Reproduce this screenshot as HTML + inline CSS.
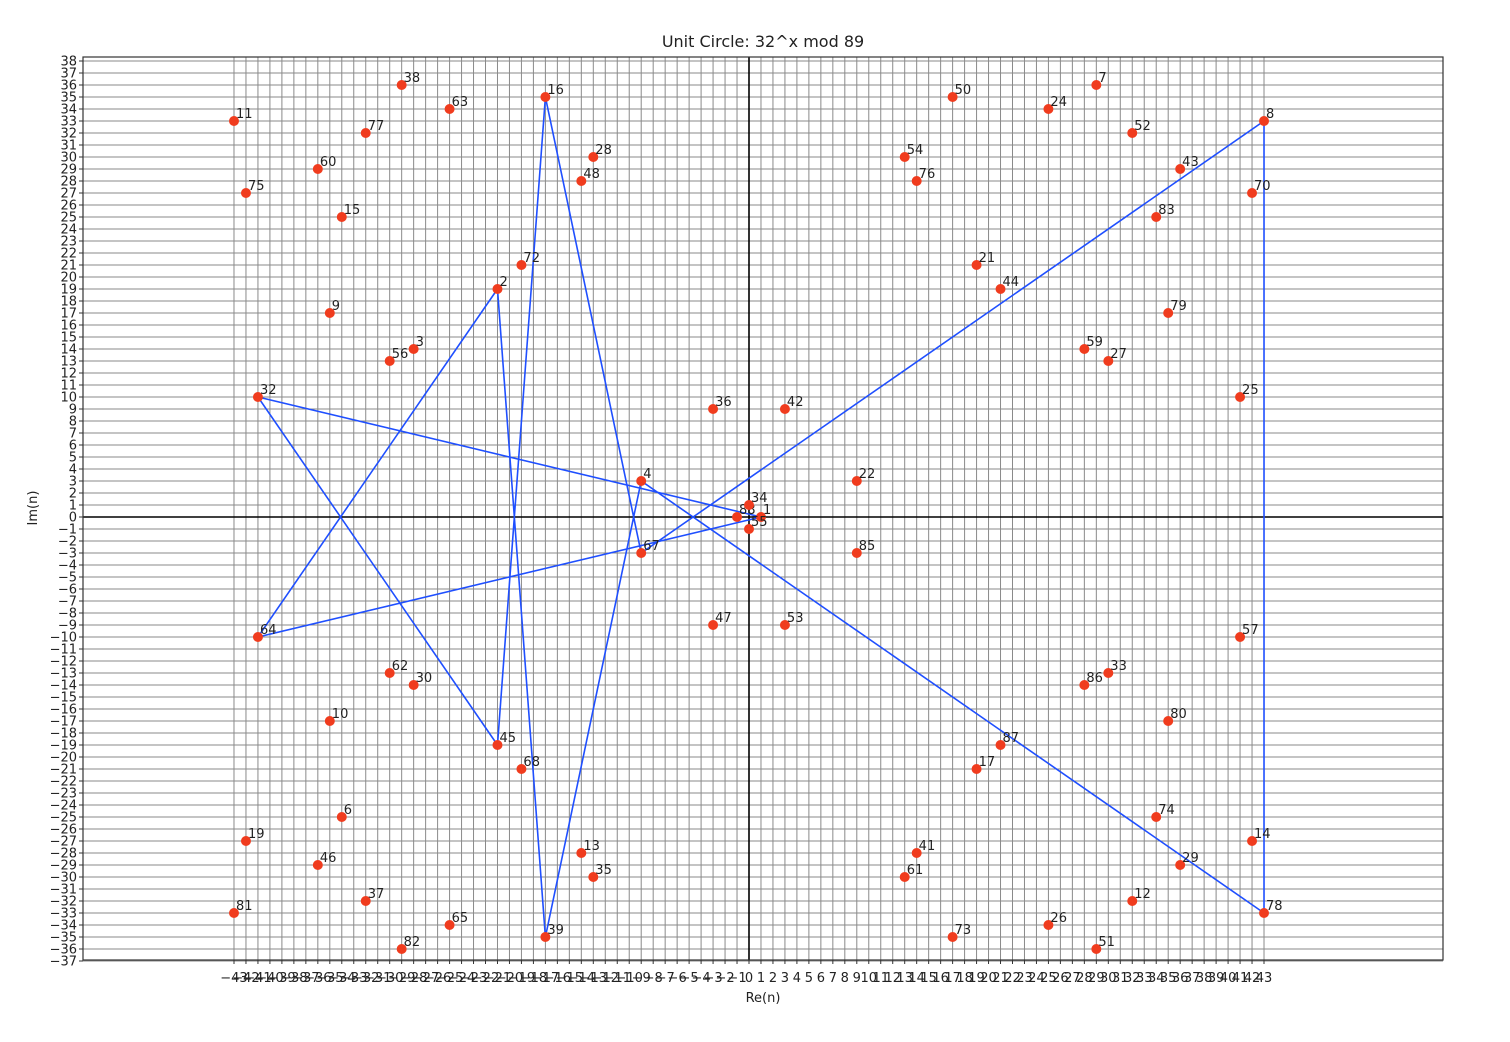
<!DOCTYPE html>
<html><head><meta charset="utf-8"><style>
html,body{margin:0;padding:0;background:#fff;width:1510px;height:1042px;overflow:hidden}
svg text{font-family:"DejaVu Sans","Liberation Sans",sans-serif;fill:#222}
</style></head><body>
<svg id="chart" width="1510" height="1042" xmlns="http://www.w3.org/2000/svg">
<text x="763" y="47" font-size="16" text-anchor="middle">Unit Circle: 32^x mod 89</text>
<text x="763" y="1002" font-size="13" text-anchor="middle">Re(n)</text>
<text x="0" y="0" font-size="13" text-anchor="middle" transform="translate(37,508) rotate(-90)">Im(n)</text>
<g id="grid"></g><g id="ticks"></g><g id="lines"></g><g id="pts"></g>
<rect x="83" y="57" width="1360" height="903" fill="none" stroke="#333" stroke-width="1.2"/>
</svg>
<script>
const labels=[11,38,63,16,77,28,60,48,75,15,72,2,9,3,56,32,36,4,67,47,64,62,30,10,45,68,6,19,13,46,35,37,81,65,39,82,88,1,34,55,42,22,85,53,50,7,24,8,52,54,43,76,70,83,21,44,79,59,27,25,57,33,86,80,87,17,74,14,41,29,61,12,78,26,73,51];
const reVals=[-43,-29,-25,-17,-32,-13,-36,-14,-42,-34,-19,-21,-35,-28,-30,-41,-3,-9,-9,-3,-41,-30,-28,-35,-21,-19,-34,-42,-14,-36,-13,-32,-43,-25,-17,-29,-1,1,0,0,3,9,9,3,17,29,25,43,32,13,36,14,42,34,19,21,35,28,30,41,41,30,28,35,21,19,34,42,14,36,13,32,43,25,17,29];
const imVals=[33,36,34,35,32,30,29,28,27,25,21,19,17,14,13,10,9,3,-3,-9,-10,-13,-14,-17,-19,-21,-25,-27,-28,-29,-30,-32,-33,-34,-35,-36,0,0,1,-1,9,3,-3,-9,35,36,34,33,32,30,29,28,27,25,21,19,17,14,13,10,-10,-13,-14,-17,-19,-21,-25,-27,-28,-29,-30,-32,-33,-34,-35,-36];
const cycle=[1,32,45,16,67,8,78,4,39,2,64,1];
const xTicks=[];for(let i=-43;i<=43;i++)xTicks.push(i);
const yTicks=[];for(let i=-37;i<=38;i++)yTicks.push(i);
const NS='http://www.w3.org/2000/svg';
const sx=v=>749+v*11.977, sy=v=>517-v*12.0;
function mk(tag,attrs,parent){const e=document.createElementNS(NS,tag);for(const k in attrs)e.setAttribute(k,attrs[k]);parent.appendChild(e);return e;}
const g=document.getElementById('grid'),t=document.getElementById('ticks'),L=document.getElementById('lines'),P=document.getElementById('pts');
xTicks.forEach(v=>{
 const l=mk('line',{x1:sx(v),x2:sx(v),y1:57,y2:960,stroke:'#8a8a8a','stroke-width':1},g);
 
 
 mk('line',{x1:sx(v),x2:sx(v),y1:960,y2:964,stroke:'#333'},t);
 const tx=mk('text',{x:sx(v),y:982,'font-size':13,'text-anchor':'middle'},t);
 tx.textContent=v<0?'\u2212'+(-v):String(v);
 
 
});
yTicks.forEach(v=>{
 const l=mk('line',{x1:83,x2:1443,y1:sy(v),y2:sy(v),stroke:'#8a8a8a','stroke-width':1},g);
 
 
 mk('line',{x1:79,x2:83,y1:sy(v),y2:sy(v),stroke:'#333'},t);
 const tx=mk('text',{x:77,y:sy(v)+4.5,'font-size':13,'text-anchor':'end'},t);
 tx.textContent=v<0?'\u2212'+(-v):String(v);
 
 
});
const ax=mk('line',{x1:83,x2:1443,y1:sy(0),y2:sy(0),stroke:'#000','stroke-width':1.6},g);


const ay=mk('line',{x1:sx(0),x2:sx(0),y1:57,y2:960,stroke:'#000','stroke-width':1.6},g);


const idx=n=>labels.indexOf(n);
const pts=cycle.map(n=>sx(reVals[idx(n)])+','+sy(imVals[idx(n)])).join(' ');
const pl=mk('polyline',{points:pts,fill:'none',stroke:'#1f4fff','stroke-width':1.6},L);


labels.forEach((n,i)=>{
 const c=mk('circle',{cx:sx(reVals[i]),cy:sy(imVals[i]),r:5,fill:'#f03c1e'},P);
 
 
 const tx=mk('text',{x:sx(reVals[i])+2,y:sy(imVals[i])-3,'font-size':13},P);
 tx.textContent=String(n);
 
 
});
</script>
</body></html>
